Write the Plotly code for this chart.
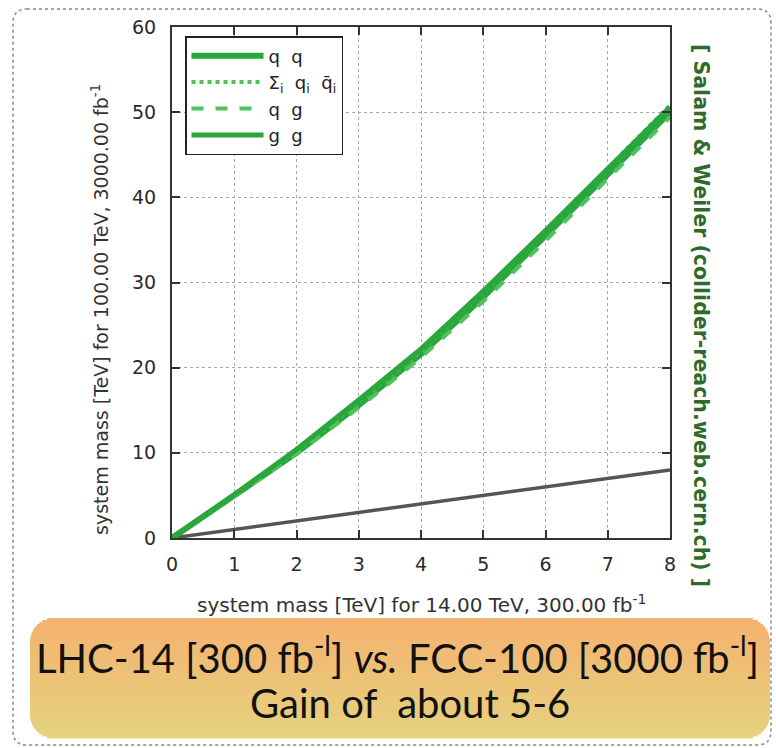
import plotly.graph_objects as go

# ---------------- data ----------------
x_mass14 = [0, 1, 2, 3, 4, 5, 6, 7, 8]
qq = [0, 5.0, 10.0, 15.6, 21.6, 28.3, 35.4, 42.7, 50.0]
sum_qqbar = [0, 5.1, 10.2, 16.0, 22.0, 28.9, 36.0, 43.4, 50.8]
qg = [0, 4.9, 9.9, 15.3, 21.2, 27.8, 34.9, 42.2, 49.4]
gg = [0, 5.1, 10.4, 16.2, 22.2, 29.0, 36.1, 43.3, 50.6]
ref_line = [0, 1, 2, 3, 4, 5, 6, 7, 8]

x_ticks = [0, 1, 2, 3, 4, 5, 6, 7, 8]
y_ticks = [0, 10, 20, 30, 40, 50, 60]

series_names = ["q &nbsp;q", "Σ<sub>i</sub> &nbsp;q<sub>i</sub> &nbsp;q̄<sub>i</sub>",
                "q &nbsp;g", "g &nbsp;g"]

# ---------------- geometry helpers ----------------
W, H = 776, 748
L, R, T, B = 172, 670, 27, 538


def px(xp):
    return (xp - L) / (R - L)


def py(yp):
    return (B - yp) / (B - T)


GREEN = "#2aa63c"

fig = go.Figure()
fig.add_trace(go.Scatter(x=x_mass14, y=ref_line, mode="lines",
                         line=dict(color="#555555", width=3.5),
                         showlegend=False, hoverinfo="skip"))
styles = [
    dict(color=GREEN, width=6, dash="solid"),
    dict(color="#4cc45a", width=4, dash="dot"),
    dict(color="#4cc45a", width=4, dash="dash"),
    dict(color=GREEN, width=5, dash="solid"),
]
for name, ys, st in zip(series_names, [qq, sum_qqbar, qg, gg], styles):
    fig.add_trace(go.Scatter(x=x_mass14, y=ys, mode="lines", name=name,
                             line=st))

shapes = []
# outer dashed rounded frame
fx0, fy0, fx1, fy1, fr = 13, 9, 771, 745, 14
path = (f"M {px(fx0+fr)} {py(fy0)} L {px(fx1-fr)} {py(fy0)} "
        f"Q {px(fx1)} {py(fy0)} {px(fx1)} {py(fy0+fr)} "
        f"L {px(fx1)} {py(fy1-fr)} Q {px(fx1)} {py(fy1)} {px(fx1-fr)} {py(fy1)} "
        f"L {px(fx0+fr)} {py(fy1)} Q {px(fx0)} {py(fy1)} {px(fx0)} {py(fy1-fr)} "
        f"L {px(fx0)} {py(fy0+fr)} Q {px(fx0)} {py(fy0)} {px(fx0+fr)} {py(fy0)} Z")
shapes.append(dict(type="path", xref="paper", yref="paper", path=path,
                   line=dict(color="#888888", width=1.5, dash="dot"),
                   fillcolor="rgba(0,0,0,0)", layer="below"))

# bottom orange gradient rounded box (strips)
bx0, by0, bx1, by1, br = 30, 618, 770, 738, 24
top_c = (245, 178, 112)
bot_c = (229, 210, 126)
n = 60
h = (by1 - by0) / n
for i in range(n):
    ya = by0 + i * h
    yb = ya + h
    ym = (ya + yb) / 2
    inset = 0.0
    if ym < by0 + br:
        d = by0 + br - ym
        inset = br - (br * br - d * d) ** 0.5
    elif ym > by1 - br:
        d = ym - (by1 - br)
        inset = br - (br * br - d * d) ** 0.5
    t = i / (n - 1)
    c = tuple(int(round(top_c[k] + (bot_c[k] - top_c[k]) * t)) for k in range(3))
    shapes.append(dict(type="rect", xref="paper", yref="paper",
                       x0=px(bx0 + inset), x1=px(bx1 - inset),
                       y0=py(yb + 0.5), y1=py(ya),
                       fillcolor=f"rgb{c}", line=dict(width=0), layer="below"))

anno_common = dict(xref="paper", yref="paper", showarrow=False,
                   xanchor="center", yanchor="middle")
annotations = [
    dict(text="system mass [TeV] for 14.00 TeV, 300.00 fb<sup>-1</sup>",
         x=px(421), y=py(604),
         font=dict(family="DejaVu Sans", size=20, color="#333333"), **anno_common),
    dict(text="system mass [TeV] for 100.00 TeV, 3000.00 fb<sup>-1</sup>",
         x=px(100), y=py(310), textangle=-90,
         font=dict(family="DejaVu Sans", size=19, color="#333333"), **anno_common),
    dict(text="[ Salam &amp; Weiler (collider-reach.web.cern.ch) ]",
         x=px(701), y=py(315), textangle=90,
         font=dict(family="DejaVu Sans", size=20.5, color="#2f6a2b", weight="bold"),
         **anno_common),
    dict(text="LHC-14 [300 fb<sup>-l</sup>] <i>vs.</i> FCC-100 [3000 fb<sup>-l</sup>]",
         x=px(397), y=py(655),
         font=dict(family="Lato", size=40, color="#111111"), **anno_common),
    dict(text="Gain of &nbsp;about 5-6",
         x=px(410), y=py(703),
         font=dict(family="Lato", size=40, color="#111111"), **anno_common),
]

axis_common = dict(showline=True, linecolor="#333333", linewidth=2, mirror="allticks",
                   ticks="inside", ticklen=8, tickwidth=1.5, tickcolor="#333333",
                   showgrid=True, gridcolor="#a8a8a8", griddash="dot", gridwidth=1,
                   zeroline=False,
                   tickfont=dict(family="DejaVu Sans", size=19, color="#2a2a2a"))

fig.update_layout(
    width=W, height=H,
    margin=dict(l=L, r=W - R, t=T, b=H - B),
    paper_bgcolor="white", plot_bgcolor="white",
    xaxis=dict(range=[0, 8], tickvals=x_ticks, ticklabelstandoff=8, **axis_common),
    yaxis=dict(range=[0, 60], tickvals=y_ticks, ticklabelstandoff=10, **axis_common),
    legend=dict(x=px(185), y=py(36), xanchor="left", yanchor="top",
                bgcolor="white", bordercolor="#222222", borderwidth=1.5,
                itemwidth=72, traceorder="normal", tracegroupgap=0,
                font=dict(family="DejaVu Sans", size=18, color="#222222")),
    shapes=shapes,
    annotations=annotations,
)

fig.write_html("out.html")
